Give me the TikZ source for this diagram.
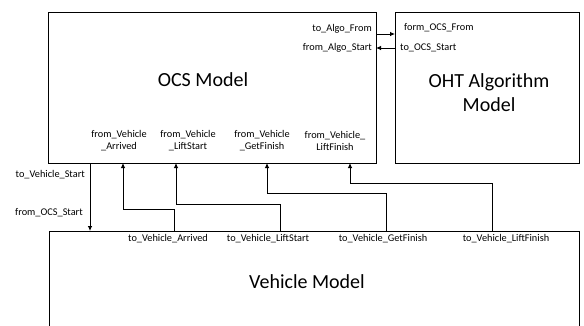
\documentclass[tikz,border=0pt]{standalone}
\usepackage{fontspec}
\setmainfont{Carlito}
\usetikzlibrary{arrows.meta}
\begin{document}
\begin{tikzpicture}[x=1pt,y=-1pt,
 box/.style={draw,line width=0.9pt,inner sep=0pt,outer sep=0pt},
 lbl/.style={font=\fontsize{10.3}{12}\selectfont,inner sep=0pt},
 big/.style={font=\fontsize{20}{24}\selectfont,inner sep=0pt,align=center},
 arr/.style={line width=0.8pt,-{Latex[length=5pt,width=4.5pt]}},
 wire/.style={line width=0.8pt}]
\clip (0,0) rectangle (584,325);
\node[box,minimum width=328pt,minimum height=151pt] (ocs) at (212,87.5) {};
\node[box,minimum width=184pt,minimum height=151pt] (oht) at (487,87.5) {};
\node[box,minimum width=530pt,minimum height=120pt] (veh) at (314,291) {};
\node[big] (ocst) at (203,80) {OCS Model};
\node[big] (ohtt) at (489,93) {OHT Algorithm\\Model};
\node[big] (veht) at (307,282) {Vehicle Model};
% OCS bottom labels
\node[lbl,align=center] (f1) at (119,141) {from\_Vehicle\\\_Arrived};
\node[lbl,align=center] (f2) at (188,141) {from\_Vehicle\\\_LiftStart};
\node[lbl,align=center] (f3) at (262,141) {from\_Vehicle\\\_GetFinish};
\node[lbl,align=center] (f4) at (335,141) {from\_Vehicle\_\\LiftFinish};
% top labels
\node[lbl,anchor=east] (t1) at (372,29) {to\_Algo\_From};
\node[lbl,anchor=east] (t2) at (372,48) {from\_Algo\_Start};
\node[lbl,anchor=west] (t3) at (404,28) {form\_OCS\_From};
\node[lbl,anchor=west] (t4) at (400,48) {to\_OCS\_Start};
% vehicle labels
\node[lbl] (v1) at (168,239) {to\_Vehicle\_Arrived};
\node[lbl] (v2) at (268,239) {to\_Vehicle\_LiftStart};
\node[lbl] (v3) at (383,239) {to\_Vehicle\_GetFinish};
\node[lbl] (v4) at (506,239) {to\_Vehicle\_LiftFinish};
% left labels
\node[lbl,anchor=east] (s1) at (85,175) {to\_Vehicle\_Start};
\node[lbl,anchor=east] (s2) at (83,213) {from\_OCS\_Start};
% coordinates
\coordinate (ya) at (0,34);
\coordinate (yb) at (0,48);
\coordinate (xs) at (90,0);
\coordinate (a1) at (174,209); \coordinate (a2) at (123,209);
\coordinate (b1) at (280,204); \coordinate (b2) at (176,204);
\coordinate (c1) at (386,193); \coordinate (c2) at (267,193);
\coordinate (d1) at (492,183); \coordinate (d2) at (350,183);
% connectors
\draw[arr] (ocs.east |- ya) -- (oht.west |- ya);
\draw[arr] (oht.west |- yb) -- (ocs.east |- yb);
\draw[arr] (xs |- ocs.south) -- (xs |- veh.north);
\draw[arr] (a1 |- veh.north) -- (a1) -- (a2) -- (a2 |- ocs.south);
\draw[arr] (b1 |- veh.north) -- (b1) -- (b2) -- (b2 |- ocs.south);
\draw[arr] (c1 |- veh.north) -- (c1) -- (c2) -- (c2 |- ocs.south);
\draw[arr] (d1 |- veh.north) -- (d1) -- (d2) -- (d2 |- ocs.south);
\end{tikzpicture}
\end{document}
